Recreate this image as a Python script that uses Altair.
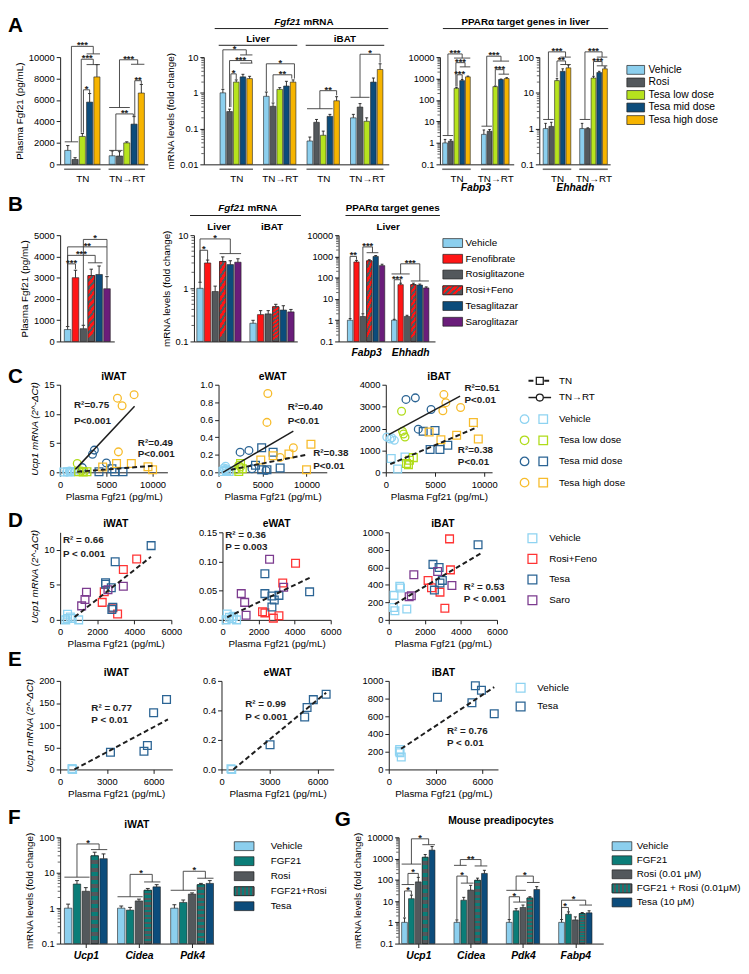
import math
import altair as alt
import pandas as pd

FONT = "Liberation Sans"
INK = "#1e1e1e"
GREY = "#707070"

# ---------------- colours ----------------
C_VEH = "#8ccfee"
C_ROSI = "#53585c"
C_LOW = "#b6e31e"
C_MID = "#0c4c7b"
C_HIGH = "#f6b400"
C_FENO = "#ff1616"
C_SARO = "#6a1d7a"
C_FGF = "#0b7d78"

S_VEH = "#8ed3f1"
S_LOW = "#b0dc1a"
S_MID = "#2b6494"
S_HIGH = "#f7bc2c"
S_RF = "#ff3434"
S_SARO = "#7c3b8f"

# ---------------- panel A data ----------------
A_TRT = ["Vehicle", "Rosi", "Tesa low dose", "Tesa mid dose", "Tesa high dose"]
A_COL = [C_VEH, C_ROSI, C_LOW, C_MID, C_HIGH]
A_TEMP = ["TN", "TN→RT"]
A2_GRP = ["TN", "TN→RT", "TN", "TN→RT"]
A1_VAL = [1300, 450, 2600, 5800, 8150, 800, 780, 2000, 3750, 6650]
A1_ERR = [1750, 620, 2880, 6600, 9300, 1250, 1180, 2100, 4450, 7450]
A2_VAL = [1.0, 0.30, 2.0, 2.8, 2.5, 0.80, 0.42, 1.25, 1.55, 2.0,
          0.045, 0.15, 0.065, 0.22, 0.60, 0.20, 0.40, 0.16, 2.0, 4.5]
A2_ERR = [1.25, 0.35, 2.3, 3.3, 2.9, 1.05, 0.52, 1.4, 2.1, 2.3,
          0.058, 0.18, 0.085, 0.25, 0.78, 0.25, 0.50, 0.20, 2.6, 6.5]
A3_VAL = [1.0, 1.2, 350, 800, 1200, 2.5, 3.5, 420, 900, 1000]
A3_ERR = [1.45, 1.4, 380, 900, 1300, 4.0, 4.2, 450, 950, 1100]
A4_VAL = [1.0, 1.15, 22, 40, 50, 1.0, 1.0, 26, 37, 47]
A4_ERR = [1.4, 1.5, 25, 47, 60, 1.4, 1.05, 29, 40, 53]

# significance: group lines (group, j1, j2, y) and brackets (group, j1, y1, j2, y2, ytop, label)
A1_HL = [(0, 0, 1, 2100), (0, 3, 4, 10300), (0, 3, 4, 9300), (1, 0, 2, 5300), (1, 3, 4, 9330), (1, 0, 1, 1300)]
A1_BR = [(0, 0.5, 2100, 3.5, 10300, 11000, "***"), (0, 1.85, 2950, 3.5, 9300, 9800, "***"),
         (0, 2.15, 2950, 3, 6650, 6950, "*"), (1, 1, 5300, 3.5, 9330, 9750, "***"),
         (1, 0.5, 1300, 2.9, 4500, 4700, "**"), (1, 3.1, 4500, 4, 7500, 7800, "**")]
A2_HL = [(0, 3, 4, 11.5), (0, 3, 4, 6.8), (2, 0, 3, 0.36), (3, 0, 2, 0.75)]
A2_BR = [(0, 0, 1.3, 3.5, 11.5, 16, "*"), (0, 1, 0.4, 4.3, 6.8, 8.0, "***"), (0, 1.2, 0.4, 2, 2.4, 3.4, "*"),
         (1, 0, 1.1, 4.2, 2.5, 6.5, "*"), (1, 1, 0.55, 3.8, 2.5, 3.2, "**"),
         (2, 1.5, 0.36, 4, 0.85, 1.15, "**"), (3, 1, 0.75, 4, 7.0, 12, "*")]
A3_HL = [(0, 0, 1, 2.2), (0, 2, 4, 9000), (0, 3, 4, 3500), (1, 0, 1, 6), (1, 2, 4, 6500), (1, 3, 4, 1600)]
A3_BR = [(0, 0.5, 2.2, 3, 9000, 14000, "***"), (0, 1.9, 420, 3.5, 3500, 5500, "***"),
         (0, 2.1, 420, 3, 950, 1500, "***"), (1, 0.5, 6, 3, 6500, 11000, "***"),
         (1, 2, 480, 3.5, 1600, 2600, "***")]
A4_HL = [(0, 0, 1, 1.8), (0, 3, 4, 100), (0, 3, 4, 62), (1, 0, 1, 1.8), (1, 3, 4, 100), (1, 3, 4, 57)]
A4_BR = [(0, 0.5, 1.8, 3.5, 100, 140, "***"), (0, 2, 27, 3.5, 62, 78, "**"),
         (1, 0.5, 1.8, 3.5, 100, 140, "***"), (1, 2, 30, 3.5, 57, 75, "***")]

# ---------------- panel B data ----------------
B_TRT = ["Vehicle", "Fenofibrate", "Rosiglitazone", "Rosi+Feno", "Tesaglitazar", "Saroglitazar"]
B_COL = [C_VEH, C_FENO, C_ROSI, C_FENO, C_MID, C_SARO]
B1_VAL = [560, 3000, 600, 3100, 3150, 2480]
B1_ERR = [700, 3350, 760, 3400, 3550, 3050]
B2_GRP = ["Liver", "iBAT"]
B2_VAL = [1.0, 3.0, 0.87, 3.2, 2.8, 3.1, 0.22, 0.32, 0.33, 0.45, 0.39, 0.36]
B2_ERR = [1.3, 3.4, 1.1, 3.9, 3.3, 3.6, 0.25, 0.38, 0.38, 0.50, 0.47, 0.40]
B3_GRP = ["Fabp3", "Ehhadh"]
B3_VAL = [1.0, 550, 1.5, 620, 1000, 370, 1.0, 47, 1.5, 47, 45, 33]
B3_ERR = [1.2, 650, 2.0, 700, 1100, 430, 1.1, 55, 1.7, 55, 50, 37]
B1_HL = [(0, 3, 4, 3700)]
B1_BR = [(0, 0, 700, 1, 3400, 3650, "***"), (0, 0, 700, 3.5, 3700, 4050, "***"),
         (0, 0, 700, 5, 3100, 4450, "**"), (0, 2, 760, 5, 4450, 4800, "*")]
B2_HL = [(0, 3, 5, 4.5)]
B2_BR = [(0, 0, 1.3, 1, 3.4, 5.2, "*"), (0, 0, 1.3, 4, 4.5, 8.5, "*")]
B3_HL = [(0, 3, 4, 1500), (1, 0, 2, 150), (1, 3, 5, 70)]
B3_BR = [(0, 0, 1.2, 1, 700, 1000, "**"), (0, 2, 2.0, 3.5, 1500, 2800, "***"),
         (1, 0, 1.1, 1, 55, 80, "***"), (1, 1, 150, 4, 70, 450, "***")]

# ---------------- panel C data (group, x, y) ----------------
C_GRPS = {"Vehicle": S_VEH, "Tesa low dose": S_LOW, "Tesa mid dose": S_MID, "Tesa high dose": S_HIGH}
C1_RT = [("Vehicle", 700, 0.1), ("Vehicle", 1000, 0.2), ("Vehicle", 1300, 0.1), ("Vehicle", 1600, 0.15),
         ("Tesa low dose", 1850, 1.5), ("Tesa low dose", 2300, 0.2), ("Tesa low dose", 2600, 0.15),
         ("Tesa mid dose", 3500, 3.1), ("Tesa mid dose", 3700, 3.8), ("Tesa mid dose", 5000, 1.6),
         ("Tesa mid dose", 2400, 0.8),
         ("Tesa high dose", 6200, 12.7), ("Tesa high dose", 6700, 11.4), ("Tesa high dose", 8000, 13.3),
         ("Tesa high dose", 6300, 3.5)]
C1_TN = [("Vehicle", 400, 0.05), ("Vehicle", 800, 0.1), ("Vehicle", 1100, 0.05),
         ("Tesa low dose", 2000, 0.1), ("Tesa low dose", 2500, 0.05), ("Tesa low dose", 2900, 0.1),
         ("Tesa mid dose", 4200, 0.1), ("Tesa mid dose", 5600, 0.6), ("Tesa mid dose", 5900, 0.1),
         ("Tesa mid dose", 6800, 0.1),
         ("Tesa high dose", 4600, 0.9), ("Tesa high dose", 6100, 1.5), ("Tesa high dose", 7700, 1.5),
         ("Tesa high dose", 9500, 0.95), ("Tesa high dose", 10000, 0.45)]
C2_RT = [("Vehicle", 600, 0.05), ("Vehicle", 800, 0.07), ("Vehicle", 700, 0.03), ("Vehicle", 900, 0.04),
         ("Tesa low dose", 2300, 0.08), ("Tesa low dose", 2500, 0.06), ("Tesa low dose", 2000, 0.03),
         ("Tesa mid dose", 2450, 0.23), ("Tesa mid dose", 3450, 0.25), ("Tesa mid dose", 3800, 0.04),
         ("Tesa mid dose", 5400, 0.02),
         ("Tesa high dose", 5600, 0.90), ("Tesa high dose", 5500, 0.57), ("Tesa high dose", 8500, 0.28),
         ("Tesa high dose", 7000, 0.17)]
C2_TN = [("Vehicle", 500, 0.01), ("Vehicle", 900, 0.02), ("Vehicle", 1200, 0.01),
         ("Tesa low dose", 2500, 0.10), ("Tesa low dose", 2700, 0.04), ("Tesa low dose", 2300, 0.01),
         ("Tesa mid dose", 4900, 0.28), ("Tesa mid dose", 6200, 0.23), ("Tesa mid dose", 7000, 0.05),
         ("Tesa mid dose", 4900, 0.03), ("Tesa mid dose", 5500, 0.03), ("Tesa mid dose", 4200, 0.08),
         ("Tesa high dose", 10500, 0.32), ("Tesa high dose", 8000, 0.21), ("Tesa high dose", 6200, 0.19),
         ("Tesa high dose", 4800, 0.14), ("Tesa high dose", 10000, 0.03)]
C3_RT = [("Vehicle", 100, 1610), ("Vehicle", 440, 1520), ("Vehicle", 870, 1460), ("Vehicle", 600, 1580),
         ("Tesa low dose", 1600, 2790), ("Tesa low dose", 1700, 1870), ("Tesa low dose", 1950, 1610),
         ("Tesa low dose", 1800, 1750),
         ("Tesa mid dose", 2050, 3330), ("Tesa mid dose", 3000, 3400), ("Tesa mid dose", 4600, 2870),
         ("Tesa mid dose", 3300, 1970),
         ("Tesa high dose", 5900, 3550), ("Tesa high dose", 6100, 3180), ("Tesa high dose", 5800, 2810),
         ("Tesa high dose", 7600, 2960)]
C3_TN = [("Vehicle", 550, 630), ("Vehicle", 1200, 150), ("Vehicle", 1950, 700),
         ("Tesa low dose", 2800, 670), ("Tesa low dose", 2100, 400), ("Tesa low dose", 2300, 350),
         ("Tesa low dose", 2400, 550),
         ("Tesa mid dose", 3800, 1870), ("Tesa mid dose", 5000, 1910), ("Tesa mid dose", 4500, 1040),
         ("Tesa mid dose", 5500, 1040), ("Tesa mid dose", 6300, 1240),
         ("Tesa high dose", 4400, 1840), ("Tesa high dose", 5600, 1490), ("Tesa high dose", 7200, 1690),
         ("Tesa high dose", 8900, 2270), ("Tesa high dose", 9400, 1520)]
# fit lines (x1, y1, x2, y2, dashed)
C1_FIT = [(1850, 0.1, 10000, 1.1, 1), (1650, 0.5, 8050, 11.3, 0)]
C2_FIT = [(1400, 0.03, 10000, 0.2, 1), (500, 0.0, 8500, 0.47, 0)]
C3_FIT = [(450, 370, 9300, 2060, 1), (300, 1720, 7550, 3480, 0)]
C1_NOTE = [(1500, 11.5, "R²=0.75"), (1500, 8.8, "P<0.001"), (8400, 5.0, "R²=0.49"), (8400, 3.1, "P<0.001")]
C2_NOTE = [(7860, 0.74, "R²=0.40"), (7860, 0.59, "P<0.01"), (10750, 0.22, "R²=0.38"), (10750, 0.075, "P<0.01")]
C3_NOTE = [(7990, 3850, "R²=0.51"), (7990, 3310, "P<0.01"), (7320, 1015, "R²=0.38"), (7320, 450, "P<0.01")]

# ---------------- panel D data ----------------
D_GRPS = {"Vehicle": S_VEH, "Rosi+Feno": S_RF, "Tesa": S_MID, "Saro": S_SARO}
D1_PTS = [("Vehicle", 400, 0.8), ("Vehicle", 400, 0.2), ("Vehicle", 650, 0.2), ("Vehicle", 1000, 0.0),
          ("Vehicle", 300, 0.0), ("Vehicle", 550, 0.4),
          ("Rosi+Feno", 4130, 8.7), ("Rosi+Feno", 3410, 7.2), ("Rosi+Feno", 2380, 4.0),
          ("Rosi+Feno", 2270, 2.5), ("Rosi+Feno", 3100, 0.84), ("Rosi+Feno", 2840, 1.7),
          ("Tesa", 4910, 10.6), ("Tesa", 2970, 8.3), ("Tesa", 2450, 5.3), ("Tesa", 2450, 5.1),
          ("Tesa", 2760, 4.6), ("Tesa", 2840, 1.8), ("Tesa", 2790, 1.5),
          ("Saro", 1420, 3.95), ("Saro", 1340, 2.9), ("Saro", 1160, 2.0), ("Saro", 2580, 4.3), ("Saro", 3410, 4.8)]
D2_PTS = [("Vehicle", 260, 0.010), ("Vehicle", 390, 0.0045), ("Vehicle", 520, 0.002), ("Vehicle", 780, 0.0),
          ("Vehicle", 200, 0.0), ("Vehicle", 600, 0.006),
          ("Rosi+Feno", 4050, 0.097), ("Rosi+Feno", 3340, 0.063), ("Rosi+Feno", 2220, 0.014),
          ("Rosi+Feno", 2350, 0.012), ("Rosi+Feno", 3130, 0.007), ("Rosi+Feno", 2820, 0.003),
          ("Tesa", 2350, 0.079), ("Tesa", 2350, 0.045), ("Tesa", 2740, 0.041), ("Tesa", 2870, 0.034),
          ("Tesa", 2740, 0.022), ("Tesa", 4830, 0.048), ("Tesa", 3130, 0.042),
          ("Saro", 2610, 0.104), ("Saro", 1040, 0.045), ("Saro", 1230, 0.030), ("Saro", 1310, 0.008),
          ("Saro", 3390, 0.056)]
D3_PTS = [("Vehicle", 290, 280), ("Vehicle", 610, 384), ("Vehicle", 650, 365), ("Vehicle", 260, 142),
          ("Vehicle", 340, 104), ("Vehicle", 1000, 123),
          ("Rosi+Feno", 3370, 925), ("Rosi+Feno", 3420, 571), ("Rosi+Feno", 2180, 451),
          ("Rosi+Feno", 2370, 366), ("Rosi+Feno", 2840, 317), ("Rosi+Feno", 3110, 134),
          ("Tesa", 4950, 858), ("Tesa", 2450, 634), ("Tesa", 2790, 597), ("Tesa", 2840, 422),
          ("Tesa", 2970, 451), ("Tesa", 2530, 340),
          ("Saro", 1390, 515), ("Saro", 1130, 265), ("Saro", 1250, 275), ("Saro", 2710, 552), ("Saro", 3500, 392)]
D1_FIT = [(780, 0.4, 4900, 9.0, 1)]
D2_FIT = [(260, 0.0045, 4830, 0.072, 1)]
D3_FIT = [(340, 179, 5080, 757, 1)]
D1_NOTE = [(150, 11.4, "R² = 0.66"), (150, 9.4, "P < 0.001")]
D2_NOTE = [(150, 0.146, "R² = 0.36"), (150, 0.125, "P = 0.003")]
D3_NOTE = [(4160, 375, "R² = 0.53"), (4160, 235, "P < 0.001")]

# ---------------- panel E data ----------------
E_GRPS = {"Vehicle": S_VEH, "Tesa": S_MID}
E1_PTS = [("Vehicle", 770, 2), ("Vehicle", 770, 0.5), ("Vehicle", 800, 0),
          ("Tesa", 3230, 39), ("Tesa", 5380, 41), ("Tesa", 5600, 54), ("Tesa", 6000, 128), ("Tesa", 6830, 158)]
E2_PTS = [("Vehicle", 590, 0.005), ("Vehicle", 640, 0.0),
          ("Tesa", 3030, 0.167), ("Tesa", 5190, 0.356), ("Tesa", 5340, 0.42), ("Tesa", 5730, 0.473),
          ("Tesa", 6530, 0.51)]
E3_PTS = [("Vehicle", 700, 226), ("Vehicle", 720, 189), ("Vehicle", 800, 141), ("Vehicle", 680, 205),
          ("Tesa", 3120, 815), ("Tesa", 5550, 944), ("Tesa", 5940, 893), ("Tesa", 5330, 752), ("Tesa", 6760, 630)]
E1_FIT = [(920, 0, 6920, 113, 1)]
E2_FIT = [(740, 0, 6530, 0.52, 1)]
E3_FIT = [(790, 233, 6760, 930, 1)]
E1_NOTE = [(2000, 139, "R² = 0.77"), (2000, 112, "P < 0.01")]
E2_NOTE = [(1480, 0.44, "R² = 0.99"), (1480, 0.356, "P < 0.001")]
E3_NOTE = [(3730, 437, "R² = 0.76"), (3730, 296, "P < 0.01")]

# ---------------- panel F / G data ----------------
F_TRT = ["Vehicle", "FGF21", "Rosi", "FGF21+Rosi", "Tesa"]
G_TRT = ["Vehicle", "FGF21", "Rosi (0.01 μM)", "FGF21 + Rosi (0.01μM)", "Tesa (10 μM)"]
FG_COL = [C_VEH, C_FGF, C_ROSI, C_FGF, C_MID]
F_GRP = ["Ucp1", "Cidea", "Pdk4"]
F_VAL = [1.0, 4.8, 3.0, 30, 25, 1.0, 0.88, 1.6, 3.2, 4.0, 1.0, 1.45, 2.5, 4.6, 5.0]
F_ERR = [1.3, 6.0, 3.8, 38, 34, 1.15, 1.05, 1.8, 3.6, 4.6, 1.25, 1.7, 2.7, 5.0, 6.0]
G_GRP = ["Ucp1", "Cidea", "Pdk4", "Fabp4"]
G_VAL = [1.0, 13, 80, 1150, 2500, 1.0, 11, 33, 95, 200, 1.0, 3.5, 5.0, 14, 35, 1.0, 2.4, 1.3, 2.6, 2.8]
G_ERR = [1.6, 19, 130, 1550, 3700, 1.3, 15, 55, 120, 280, 1.35, 4.4, 6.5, 16, 48, 1.35, 3.1, 1.8, 2.9, 3.5]
F_HL = [(0, 0, 2, 7.5), (0, 3, 4, 45), (1, 0, 2, 2.1), (1, 3, 4, 5.5), (2, 0, 2, 3.2), (2, 3, 4, 7.0)]
F_BR = [(0, 1, 7.5, 3.5, 45, 65, "*"), (1, 1, 2.1, 3.5, 5.5, 9, "*"), (2, 1, 3.2, 3.5, 7.0, 11, "*")]
G_HL = [(0, 0, 1, 60), (0, 0, 2, 550), (0, 3, 4, 4500), (1, 1, 2, 70), (1, 0, 1, 480), (1, 3, 4, 450),
        (2, 1, 2, 9), (2, 0, 2, 32), (2, 3, 4, 75), (3, 3, 4, 6.5)]
G_BR = [(0, 0, 1.7, 1, 20, 30, "*"), (0, 0.5, 60, 2, 135, 200, "*"), (0, 1, 550, 3.5, 4500, 8500, "*"),
        (1, 0, 1.35, 1.5, 70, 150, "*"), (1, 0.5, 480, 3.5, 450, 900, "**"),
        (2, 0, 1.35, 1.5, 9, 16, "*"), (2, 1, 32, 3.5, 75, 150, "*"),
        (3, 0, 1.35, 1, 3.1, 5, "*"), (3, 0, 1.35, 3.5, 6.5, 11, "*")]


# ---------------- helpers ----------------
def stripes(c1, c2, n, x2, y2, frac=0.5):
    stops = []
    for i in range(n):
        a = i / n
        m = (i + frac) / n
        b = (i + 1) / n
        stops += [dict(offset=a, color=c1), dict(offset=m, color=c1),
                  dict(offset=m, color=c2), dict(offset=b, color=c2)]
    return dict(gradient="linear", x1=0, y1=0, x2=x2, y2=y2, stops=stops)


RF_FILL = stripes(C_FENO, C_ROSI, 9, 0.12, 1.0, 0.55)
RF_LEG = stripes(C_FENO, C_ROSI, 4, 1.0, 0.5, 0.55)
FR_FILL = stripes(C_FGF, C_ROSI, 11, 0.0, 1.0)
FR_LEG = stripes(C_FGF, C_ROSI, 5, 1.0, 0.0)

BOLD = dict(fontWeight="bold", fontSize=10, align="center", baseline="middle", color="black")
BOLDIT = dict(fontWeight="bold", fontStyle="italic", fontSize=10.5, align="center", baseline="middle", color="black")
TITLE = dict(fontWeight="bold", fontSize=10.5, align="center", baseline="middle", color="black")

ONE = pd.DataFrame({"k": [0]})


def annot(specs, xs=None, span=None, xax=None):
    out = []
    for s in specs:
        kind = s[0]
        if kind == "gtext":
            _, g0, g1, ypx, text, st = s
            l, r = span(g0, g1)
            d = pd.DataFrame({"x": [(l + r) / 2], "t": [text]})
            out.append(alt.Chart(d).mark_text(**st).encode(
                x=alt.X("x:Q", scale=xs, axis=xax), y=alt.value(ypx), text="t:N"))
        elif kind == "gtext2":
            _, g0, g1, ypx, t1, t2 = s
            l, r = span(g0, g1)
            d = pd.DataFrame({"x": [(l + r) / 2], "a": [t1], "b": [t2]})
            out.append(alt.Chart(d).mark_text(align="right", baseline="middle", dx=-1, fontSize=10,
                                              fontWeight="bold", fontStyle="italic", color="black").encode(
                x=alt.X("x:Q", scale=xs, axis=xax), y=alt.value(ypx), text="a:N"))
            out.append(alt.Chart(d).mark_text(align="left", baseline="middle", dx=2, fontSize=10,
                                              fontWeight="bold", color="black").encode(
                x=alt.X("x:Q", scale=xs, axis=xax), y=alt.value(ypx), text="b:N"))
        elif kind == "gline":
            _, g0, g1, ypx, ext = s
            l, r = span(g0, g1)
            d = pd.DataFrame({"a": [l - ext], "b": [r + ext]})
            out.append(alt.Chart(d).mark_rule(color=INK, strokeWidth=1).encode(
                x=alt.X("a:Q", scale=xs, axis=xax), x2="b:Q", y=alt.value(ypx)))
        elif kind == "ptext":
            _, xpx, ypx, text, st = s
            out.append(alt.Chart(pd.DataFrame({"t": [text]})).mark_text(**st).encode(
                x=alt.value(xpx), y=alt.value(ypx), text="t:N"))
        elif kind == "pline":
            _, x1, x2, ypx = s
            out.append(alt.Chart(ONE).mark_rule(color=INK, strokeWidth=1).encode(
                x=alt.value(x1), x2=alt.value(x2), y=alt.value(ypx)))
        elif kind == "letter":
            _, xpx, ypx, text = s
            out.append(alt.Chart(pd.DataFrame({"t": [text]})).mark_text(
                align="left", baseline="top", fontSize=21, fontWeight="bold", color="black").encode(
                x=alt.value(xpx), y=alt.value(ypx), text="t:N"))
        elif kind == "extent":
            _, xpx, top, bot = s
            out.append(alt.Chart(ONE).mark_rule(strokeOpacity=0, opacity=0).encode(
                x=alt.value(xpx), y=alt.value(top), y2=alt.value(bot)))
    return out


def label_expr(centers, names):
    expr = "'" + names[-1] + "'"
    for i in range(len(names) - 2, -1, -1):
        t = (centers[i] + centers[i + 1]) / 2
        expr = "datum.value < %.3f ? '%s' : (%s)" % (t, names[i], expr)
    return expr


BW = 0.84
CAP = 0.22


def bar_panel(groups, trts, colors, vals, errs, *, width, height, slot, padL, gap, ylog, ydom, yticks,
              ytitle=None, patt=None, xlabels=False, xbold=False, xticks=False, xpad=9,
              underline=False, hl=(), br=(), extra=()):
    n = len(trts)

    def P(g, j):
        return g * (n + gap) + j

    rows = []
    for gi, g in enumerate(groups):
        for j, t in enumerate(trts):
            k = gi * n + j
            p = P(gi, j)
            rows.append(dict(grp=g, trt=t, col=colors[j], pos=p, x1=p - BW / 2, x2=p + BW / 2,
                             val=vals[k], err=errs[k], base=ydom[0], c1=p - CAP, c2=p + CAP))
    df = pd.DataFrame(rows)
    x0 = -0.5 - padL
    xs = alt.Scale(domain=[x0, x0 + width / slot], nice=False, zero=False)
    if ylog:
        ys = alt.Scale(type="log", domain=list(ydom), nice=False)
    else:
        ys = alt.Scale(domain=list(ydom), nice=False, zero=False)
    centers = [P(gi, (n - 1) / 2) for gi in range(len(groups))]
    xax = alt.Axis(values=centers, labelExpr=label_expr(centers, groups), labels=xlabels, ticks=xticks,
                   tickSize=4, tickColor=INK, domainColor=INK, domainWidth=1, title=None, grid=False,
                   labelFontSize=10.5 if xbold else 10, labelFontWeight="bold" if xbold else "normal",
                   labelFontStyle="italic" if xbold else "normal", labelColor="black", labelPadding=xpad,
                   labelAngle=0, labelOverlap=False, labelFlush=False)
    yax = alt.Axis(values=yticks, format=".6~g", title=ytitle, grid=False, tickSize=4, tickColor=INK,
                   domainColor=INK, labelFontSize=9.5, labelColor="black", labelPadding=2, labelOverlap=False,
                   titleFontSize=10, titleFontWeight="normal", titleColor="black", titlePadding=4)
    base = alt.Chart(df)
    layers = [base.mark_rect(stroke=INK, strokeWidth=0.6).encode(
        x=alt.X("x1:Q", scale=xs, axis=xax), x2="x2:Q",
        y=alt.Y("val:Q", scale=ys, axis=yax), y2="base:Q",
        fill=alt.Fill("col:N", scale=None))]
    if patt:
        layers.append(base.transform_filter(alt.datum.trt == patt[0]).mark_rect(
            stroke=INK, strokeWidth=0.6, fill=patt[1]).encode(
            x=alt.X("x1:Q", scale=xs, axis=xax), x2="x2:Q",
            y=alt.Y("val:Q", scale=ys, axis=yax), y2="base:Q"))
    layers.append(base.mark_rule(color=INK, strokeWidth=0.9).encode(
        x=alt.X("pos:Q", scale=xs, axis=xax), y=alt.Y("val:Q", scale=ys, axis=yax), y2="err:Q"))
    layers.append(base.mark_rule(color=INK, strokeWidth=0.9).encode(
        x=alt.X("c1:Q", scale=xs, axis=xax), x2="c2:Q", y=alt.Y("err:Q", scale=ys, axis=yax)))
    segs, labs = [], []
    for (g, j1, j2, y) in hl:
        segs.append(dict(xa=P(g, j1) - 0.42, xb=P(g, j2) + 0.42, ya=y, yb=y))
    for (g, j1, y1, j2, y2, yt, lab) in br:
        a, b = P(g, j1), P(g, j2)
        segs += [dict(xa=a, xb=a, ya=y1, yb=yt), dict(xa=b, xb=b, ya=y2, yb=yt),
                 dict(xa=a, xb=b, ya=yt, yb=yt)]
        labs.append(dict(x=(a + b) / 2, y=yt, lab=lab))
    if segs:
        layers.append(alt.Chart(pd.DataFrame(segs)).mark_rule(color="#3a3a3a", strokeWidth=0.9).encode(
            x=alt.X("xa:Q", scale=xs, axis=xax), x2="xb:Q",
            y=alt.Y("ya:Q", scale=ys, axis=yax), y2="yb:Q"))
    if labs:
        layers.append(alt.Chart(pd.DataFrame(labs)).mark_text(
            fontSize=9.5, fontWeight="bold", baseline="alphabetic", dy=2, color="#222").encode(
            x=alt.X("x:Q", scale=xs, axis=xax), y=alt.Y("y:Q", scale=ys, axis=yax), text="lab:N"))
    if underline:
        ul = pd.DataFrame([dict(a=P(gi, 0) - 0.5, b=P(gi, n - 1) + 0.5) for gi in range(len(groups))])
        layers.append(alt.Chart(ul).mark_rule(color=GREY, strokeWidth=1.6).encode(
            x=alt.X("a:Q", scale=xs, axis=xax), x2="b:Q", y=alt.value(height + 5)))
    if ylog:
        lo = int(round(math.log10(ydom[0])))
        hi = int(round(math.log10(ydom[1])))
        mv = [m * 10.0 ** e for e in range(lo, hi) for m in range(2, 10)]
        layers.append(alt.Chart(pd.DataFrame({"v": mv})).mark_rule(color=INK, strokeWidth=0.7).encode(
            x=alt.value(0), x2=alt.value(-2.5), y=alt.Y("v:Q", scale=ys, axis=yax)))

    def span(g0, g1):
        return (P(g0, 0) - BW / 2, P(g1, n - 1) + BW / 2)

    layers += annot(extra, xs, span, xax)
    return alt.layer(*layers).properties(width=width, height=height)


def scatter_panel(pts, fits, notes, cmap, *, width, height, xdom, xticks, ydom, yticks, yfmt, title,
                  ytitle=None, extra=()):
    df = pd.DataFrame(pts, columns=["grp", "shp", "x", "y"])
    df["col"] = [cmap[g] for g in df["grp"]]
    xs = alt.Scale(domain=list(xdom), nice=False, zero=False)
    ys = alt.Scale(domain=list(ydom), nice=False, zero=False)
    xax = alt.Axis(values=xticks, format="d", title="Plasma Fgf21 (pg/mL)", grid=False, tickSize=4,
                   tickColor=INK, domainColor=INK, labelFontSize=9.5, labelColor="black", labelPadding=3,
                   labelFlush=False, labelOverlap=False, titleFontSize=10, titleFontWeight="normal",
                   titleColor="black", titlePadding=3)
    yax = alt.Axis(values=yticks, format=yfmt, title=ytitle, grid=False, tickSize=4, tickColor=INK,
                   domainColor=INK, labelFontSize=9.5, labelColor="black", labelPadding=2, labelOverlap=False,
                   titleFontSize=10, titleFontWeight="normal", titleFontStyle="italic", titleColor="black",
                   titlePadding=4)
    layers = [alt.Chart(df).mark_point(filled=False, size=62, strokeWidth=1.3, opacity=1).encode(
        x=alt.X("x:Q", scale=xs, axis=xax), y=alt.Y("y:Q", scale=ys, axis=yax),
        stroke=alt.Stroke("col:N", scale=None),
        shape=alt.Shape("shp:N", scale=None))]
    fd = pd.DataFrame(fits, columns=["x", "y", "x2", "y2", "dash"])
    fc = alt.Chart(fd)
    layers.append(fc.transform_filter("datum.dash == 0").mark_rule(color=INK, strokeWidth=1.5).encode(
        x=alt.X("x:Q", scale=xs, axis=xax), x2="x2:Q", y=alt.Y("y:Q", scale=ys, axis=yax), y2="y2:Q"))
    layers.append(fc.transform_filter("datum.dash == 1").mark_rule(
        color=INK, strokeWidth=2, strokeDash=[5, 3]).encode(
        x=alt.X("x:Q", scale=xs, axis=xax), x2="x2:Q", y=alt.Y("y:Q", scale=ys, axis=yax), y2="y2:Q"))
    nd = pd.DataFrame(notes, columns=["x", "y", "t"])
    layers.append(alt.Chart(nd).mark_text(align="left", baseline="middle", fontWeight="bold", fontSize=10,
                                          color=INK).encode(
        x=alt.X("x:Q", scale=xs, axis=xax), y=alt.Y("y:Q", scale=ys, axis=yax), text="t:N"))
    layers += annot([("ptext", width / 2, -8, title, TITLE)] + list(extra))
    return alt.layer(*layers).properties(width=width, height=height)


def with_shape(rows, shp):
    return [(g, shp, x, y) for (g, x, y) in rows]


def legend_bars(names, colors, *, width, height, first, step, bw, bh, tx, fs, patt=None):
    df = pd.DataFrame({"lab": names, "col": colors, "off": [first + i * step for i in range(len(names))]})
    df["y1"] = df["off"] - bh / 2
    df["y2"] = df["off"] + bh / 2
    ys = alt.Scale(domain=[height, 0], nice=False, zero=False)
    base = alt.Chart(df)
    layers = [base.mark_rect(stroke=INK, strokeWidth=0.7).encode(
        x=alt.value(0), x2=alt.value(bw), y=alt.Y("y1:Q", scale=ys, axis=None), y2="y2:Q",
        fill=alt.Fill("col:N", scale=None))]
    if patt:
        layers.append(base.transform_filter(alt.datum.lab == patt[0]).mark_rect(
            stroke=INK, strokeWidth=0.7, fill=patt[1]).encode(
            x=alt.value(0), x2=alt.value(bw), y=alt.Y("y1:Q", scale=ys, axis=None), y2="y2:Q"))
    layers.append(base.mark_text(align="left", baseline="middle", fontSize=fs, color="black").encode(
        x=alt.value(tx), y=alt.Y("off:Q", scale=ys, axis=None), text="lab:N"))
    return alt.layer(*layers).properties(width=width, height=height)


def legend_c(width, height):
    ys = alt.Scale(domain=[height, 0], nice=False, zero=False)
    ld = pd.DataFrame({"lab": ["TN", "TN→RT"], "off": [-4, 13], "shp": ["square", "circle"], "dash": [1, 0]})
    lc = alt.Chart(ld)
    layers = [
        lc.transform_filter("datum.dash == 1").mark_rule(color=INK, strokeWidth=2, strokeDash=[5, 3]).encode(
            x=alt.value(12), x2=alt.value(35), y=alt.Y("off:Q", scale=ys, axis=None)),
        lc.transform_filter("datum.dash == 0").mark_rule(color=INK, strokeWidth=1.5).encode(
            x=alt.value(12), x2=alt.value(35), y=alt.Y("off:Q", scale=ys, axis=None)),
        lc.mark_point(filled=True, fill="white", stroke=INK, strokeWidth=1.3, size=50, opacity=1).encode(
            x=alt.value(23.5), y=alt.Y("off:Q", scale=ys, axis=None), shape=alt.Shape("shp:N", scale=None)),
        lc.mark_text(align="left", baseline="middle", fontSize=10, color="black").encode(
            x=alt.value(43), y=alt.Y("off:Q", scale=ys, axis=None), text="lab:N"),
    ]
    md = pd.DataFrame({"lab": list(C_GRPS.keys()), "col": list(C_GRPS.values()),
                       "off": [35 + i * 21.5 for i in range(4)]})
    mc = alt.Chart(md)
    layers += [
        mc.mark_point(filled=False, shape="circle", size=75, strokeWidth=1.3, opacity=1).encode(
            x=alt.value(8), y=alt.Y("off:Q", scale=ys, axis=None), stroke=alt.Stroke("col:N", scale=None)),
        mc.mark_point(filled=False, shape="square", size=75, strokeWidth=1.3, opacity=1).encode(
            x=alt.value(27), y=alt.Y("off:Q", scale=ys, axis=None), stroke=alt.Stroke("col:N", scale=None)),
        mc.mark_text(align="left", baseline="middle", fontSize=10, color="black").encode(
            x=alt.value(43), y=alt.Y("off:Q", scale=ys, axis=None), text="lab:N"),
    ]
    return alt.layer(*layers).properties(width=width, height=height)


def legend_sq(cmap, *, width, height, first, step):
    ys = alt.Scale(domain=[height, 0], nice=False, zero=False)
    md = pd.DataFrame({"lab": list(cmap.keys()), "col": list(cmap.values()),
                       "off": [first + i * step for i in range(len(cmap))]})
    mc = alt.Chart(md)
    return alt.layer(
        mc.mark_point(filled=False, shape="square", size=80, strokeWidth=1.3, opacity=1).encode(
            x=alt.value(11), y=alt.Y("off:Q", scale=ys, axis=None), stroke=alt.Stroke("col:N", scale=None)),
        mc.mark_text(align="left", baseline="middle", fontSize=10, color="black").encode(
            x=alt.value(28), y=alt.Y("off:Q", scale=ys, axis=None), text="lab:N"),
    ).properties(width=width, height=height)


def spacer(w):
    return alt.Chart(ONE).mark_point(opacity=0, size=1).encode(
        x=alt.value(0), y=alt.value(0)).properties(width=w, height=10)


def row(*charts):
    return alt.hconcat(*charts, spacing=0, bounds="flush")


# ---------------- row A ----------------
HA = 109
A1 = bar_panel(A_TEMP, A_TRT, A_COL, A1_VAL, A1_ERR, width=89, height=HA, slot=7.4, padL=0.55, gap=1.1,
               ylog=False, ydom=(0, 10000), yticks=[0, 2000, 4000, 6000, 8000, 10000],
               ytitle="Plasma Fgf21 (pg/mL)", xlabels=True, underline=True, hl=A1_HL, br=A1_BR,
               extra=[("letter", -53, -42, "A"), ("extent", -53, -42, HA + 30)])
A2 = bar_panel(A2_GRP, A_TRT, A_COL, A2_VAL, A2_ERR, width=188, height=HA, slot=6.8, padL=2.35, gap=1.5,
               ylog=True, ydom=(0.01, 10), yticks=[0.01, 0.1, 1, 10], ytitle="mRNA levels (fold change)",
               xlabels=True, underline=True, hl=A2_HL, br=A2_BR,
               extra=[("gtext2", 0, 3, -36, "Fgf21", "mRNA"), ("gline", 0, 3, -29, 0.8),
                      ("gtext", 0, 1, -18, "Liver", BOLD), ("gline", 0, 1, -12, 0.2),
                      ("gtext", 2, 3, -18, "iBAT", BOLD), ("gline", 2, 3, -12, 0.2)])
A3 = bar_panel(A_TEMP, A_TRT, A_COL, A3_VAL, A3_ERR, width=75, height=HA, slot=5.8, padL=0.4, gap=1.8,
               ylog=True, ydom=(0.1, 10000), yticks=[0.1, 1, 10, 100, 1000, 10000],
               xlabels=True, underline=True, hl=A3_HL, br=A3_BR,
               extra=[("ptext", 87, -36, "PPARα target genes in liver", BOLD), ("pline", 3, 171, -29),
                      ("gtext", 0, 1, HA + 24, "Fabp3", BOLDIT)])
A4 = bar_panel(A_TEMP, A_TRT, A_COL, A4_VAL, A4_ERR, width=72, height=HA, slot=5.8, padL=0.6, gap=1.4,
               ylog=True, ydom=(0.1, 100), yticks=[0.1, 1, 10, 100],
               xlabels=True, underline=True, hl=A4_HL, br=A4_BR,
               extra=[("gtext", 0, 1, HA + 24, "Ehhadh", BOLDIT)])
LA = legend_bars(A_TRT, A_COL, width=112, height=HA, first=13, step=12.75, bw=18, bh=9, tx=22, fs=10.5)
rowA = row(A1, spacer(57), A2, spacer(52), A3, spacer(26), A4, spacer(17), LA)

# ---------------- row B ----------------
HB = 108
B1 = bar_panel(["all"], B_TRT, B_COL, B1_VAL, B1_ERR, width=55, height=HB, slot=8.0, padL=0.45, gap=0,
               ylog=False, ydom=(0, 5000), yticks=[0, 1000, 2000, 3000, 4000, 5000],
               ytitle="Plasma Fgf21 (pg/mL)", patt=("Rosi+Feno", RF_FILL), hl=B1_HL, br=B1_BR,
               extra=[("letter", -53, -42, "B"), ("extent", -53, -42, HB + 25)])
B2 = bar_panel(B2_GRP, B_TRT, B_COL, B2_VAL, B2_ERR, width=105, height=HB, slot=7.7, padL=0.3, gap=1.0,
               ylog=True, ydom=(0.1, 10), yticks=[0.1, 1, 10], ytitle="mRNA levels (fold change)",
               patt=("Rosi+Feno", RF_FILL), hl=B2_HL, br=B2_BR,
               extra=[("gtext2", 0, 1, -28, "Fgf21", "mRNA"), ("gline", 0, 1, -20, 0.9),
                      ("gtext", 0, 0, -8, "Liver", BOLD), ("gtext", 1, 1, -8, "iBAT", BOLD)])
B3 = bar_panel(B3_GRP, B_TRT, B_COL, B3_VAL, B3_ERR, width=98, height=HB, slot=6.5, padL=1.3, gap=0.9,
               ylog=True, ydom=(0.1, 10000), yticks=[0.1, 1, 10, 100, 1000, 10000],
               patt=("Rosi+Feno", RF_FILL), xlabels=True, xbold=True, xpad=6, hl=B3_HL, br=B3_BR,
               extra=[("ptext", 55, -28, "PPARα target genes", BOLD), ("pline", 7, 103, -20),
                      ("gtext", 0, 1, -8, "Liver", BOLD)])
LB = legend_bars(B_TRT, B_COL, width=100, height=HB, first=8, step=16, bw=20, bh=9, tx=23, fs=10,
                 patt=("Rosi+Feno", RF_LEG))
rowB = row(B1, spacer(81), B2, spacer(42), B3, spacer(8), LB)

# ---------------- row C ----------------
HC = 89
UCP = "Ucp1 mRNA (2^-ΔCt)"
C1 = scatter_panel(with_shape(C1_RT, "circle") + with_shape(C1_TN, "square"), C1_FIT, C1_NOTE, C_GRPS,
                   width=109, height=HC, xdom=(0, 11600), xticks=[0, 5000, 10000], ydom=(0, 15),
                   yticks=[0, 5, 10, 15], yfmt="d", title="iWAT", ytitle=UCP,
                   extra=[("letter", -53, -19, "C"), ("extent", -53, -19, HC + 39)])
C2 = scatter_panel(with_shape(C2_RT, "circle") + with_shape(C2_TN, "square"), C2_FIT, C2_NOTE, C_GRPS,
                   width=110, height=HC, xdom=(0, 12300), xticks=[0, 5000, 10000], ydom=(0, 1.0),
                   yticks=[0, 0.2, 0.4, 0.6, 0.8, 1.0], yfmt=".1f", title="eWAT")
C3 = scatter_panel(with_shape(C3_RT, "circle") + with_shape(C3_TN, "square"), C3_FIT, C3_NOTE, C_GRPS,
                   width=108, height=HC, xdom=(0, 10800), xticks=[0, 5000, 10000], ydom=(0, 4000),
                   yticks=[0, 1000, 2000, 3000, 4000], yfmt="d", title="iBAT")
LC = legend_c(220, HC)
rowC = row(C1, spacer(52), C2, spacer(60), C3, spacer(25), LC)

# ---------------- row D ----------------
HD = 89
D1 = scatter_panel(with_shape(D1_PTS, "square"), D1_FIT, D1_NOTE, D_GRPS, width=113, height=HD,
                   xdom=(0, 6000), xticks=[0, 2000, 4000, 6000], ydom=(0, 12.5), yticks=[0, 5, 10], yfmt="d",
                   title="iWAT", ytitle=UCP, extra=[("letter", -53, -22, "D"), ("extent", -53, -22, HD + 30)])
D2 = scatter_panel(with_shape(D2_PTS, "square"), D2_FIT, D2_NOTE, D_GRPS, width=110, height=HD,
                   xdom=(0, 6000), xticks=[0, 2000, 4000, 6000], ydom=(0, 0.15),
                   yticks=[0, 0.05, 0.10, 0.15], yfmt=".2f", title="eWAT")
D3 = scatter_panel(with_shape(D3_PTS, "square"), D3_FIT, D3_NOTE, D_GRPS, width=110, height=HD,
                   xdom=(0, 6000), xticks=[0, 2000, 4000, 6000], ydom=(0, 1000),
                   yticks=[0, 200, 400, 600, 800, 1000], yfmt="d", title="iBAT")
LD = legend_sq(D_GRPS, width=120, height=HD, first=6, step=21)
rowD = row(D1, spacer(52), D2, spacer(59), D3, spacer(25), LD)

# ---------------- row E ----------------
HE = 90
E1 = scatter_panel(with_shape(E1_PTS, "square"), E1_FIT, E1_NOTE, E_GRPS, width=114, height=HE,
                   xdom=(0, 7200), xticks=[0, 3000, 6000], ydom=(0, 200), yticks=[0, 50, 100, 150, 200],
                   yfmt="d", title="iWAT", ytitle=UCP,
                   extra=[("letter", -53, -32, "E"), ("extent", -53, -32, HE + 37)])
E2 = scatter_panel(with_shape(E2_PTS, "square"), E2_FIT, E2_NOTE, E_GRPS, width=114, height=HE,
                   xdom=(0, 7000), xticks=[0, 3000, 6000], ydom=(0, 0.6), yticks=[0, 0.2, 0.4, 0.6],
                   yfmt=".1f", title="eWAT")
E3 = scatter_panel(with_shape(E3_PTS, "square"), E3_FIT, E3_NOTE, E_GRPS, width=111, height=HE,
                   xdom=(0, 7000), xticks=[0, 3000, 6000], ydom=(0, 1000),
                   yticks=[0, 200, 400, 600, 800, 1000], yfmt="d", title="iBAT")
LE = legend_sq(E_GRPS, width=120, height=HE, first=7, step=19)
rowE = row(E1, spacer(50), E2, spacer(56), E3, spacer(12), LE)

# ---------------- row F / G ----------------
HF = 108
F = bar_panel(F_GRP, F_TRT, FG_COL, F_VAL, F_ERR, width=156, height=HF, slot=9.0, padL=0.4, gap=1.0,
              ylog=True, ydom=(0.1, 100), yticks=[0.1, 1, 10, 100], ytitle="mRNA levels (fold change)",
              patt=("FGF21+Rosi", FR_FILL), xlabels=True, xbold=True, xticks=True, xpad=3,
              hl=F_HL, br=F_BR,
              extra=[("letter", -53, -31, "F"), ("extent", -53, -32, HF + 22),
                     ("ptext", 78, -12, "iWAT", TITLE)])
LF = legend_bars(F_TRT, FG_COL, width=100, height=HF, first=9, step=15.25, bw=20, bh=9, tx=37, fs=10,
                 patt=("FGF21+Rosi", FR_LEG))
G = bar_panel(G_GRP, G_TRT, FG_COL, G_VAL, G_ERR, width=208, height=HF, slot=7.0, padL=0.36, gap=2.6,
              ylog=True, ydom=(0.1, 10000), yticks=[0.1, 1, 10, 100, 1000, 10000],
              ytitle="mRNA levels (fold change)", patt=("FGF21 + Rosi (0.01μM)", FR_FILL),
              xlabels=True, xbold=True, xticks=True, xpad=3, hl=G_HL, br=G_BR,
              extra=[("letter", -65, -29, "G"), ("ptext", 104, -17, "Mouse preadipocytes", TITLE)])
LG = legend_bars(G_TRT, FG_COL, width=127, height=HF, first=9, step=14.3, bw=20, bh=9, tx=25, fs=10,
                 patt=("FGF21 + Rosi (0.01μM)", FR_LEG))
rowF = row(F, spacer(21), LF, spacer(67), G, spacer(9), LG)

chart = alt.vconcat(rowA, rowB, rowC, rowD, rowE, rowF, spacing=0).properties(padding=0)
chart = chart.configure(font=FONT).configure_view(stroke=None)

chart.save("out.html", embed_options={"renderer": "svg", "actions": False})
